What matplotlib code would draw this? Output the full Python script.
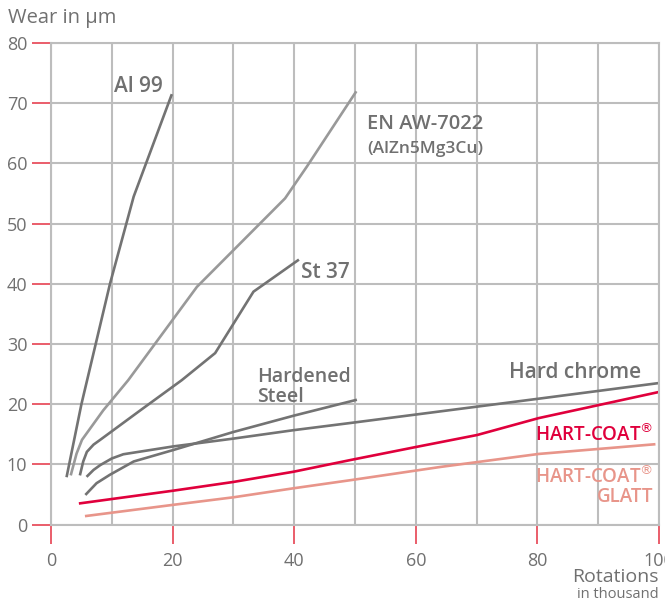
import matplotlib
matplotlib.use("Agg")
import matplotlib.pyplot as plt

# wear curves (x in thousand rotations, y in um)
al99_x = [2.6, 5.0, 9.7, 13.6, 19.8]
al99_y = [8.1, 20.0, 40.0, 54.5, 71.3]

enaw_x = [3.3, 4.2, 5.1, 8.6, 12.7, 24.0, 38.5, 42.1, 50.1]
enaw_y = [8.4, 11.8, 14.1, 19.0, 24.0, 39.5, 54.2, 59.5, 71.8]

st37_x = [4.8, 5.3, 5.9, 7.0, 8.1, 14.7, 21.5, 27.0, 33.3, 40.6]
st37_y = [8.4, 10.5, 12.1, 13.3, 14.1, 19.0, 24.0, 28.5, 38.7, 43.9]

hard_x = [5.8, 7.5, 9.7, 13.6, 20.1, 30.0, 39.9, 50.1]
hard_y = [5.1, 6.9, 8.3, 10.5, 12.4, 15.4, 18.1, 20.7]

chrome_x = [6.0, 7.0, 8.1, 10.0, 11.9, 20.1, 30.0, 39.9, 49.3, 80.0, 99.8]
chrome_y = [8.1, 9.1, 9.9, 11.0, 11.7, 13.0, 14.3, 15.7, 16.9, 20.9, 23.5]

hc_x = [4.8, 20.1, 30.0, 39.9, 49.3, 60.0, 70.1, 80.2, 99.8]
hc_y = [3.55, 5.65, 7.1, 8.8, 10.75, 12.9, 14.9, 17.7, 22.0]

glatt_x = [5.8, 20.1, 30.0, 39.9, 49.3, 64.1, 80.2, 99.2]
glatt_y = [1.45, 3.3, 4.55, 6.05, 7.4, 9.6, 11.75, 13.35]

x_ticks = [0, 20, 40, 60, 80, 100]
y_ticks = [0, 10, 20, 30, 40, 50, 60, 70, 80]

plt.rcParams['font.family'] = ['Open Sans', 'DejaVu Sans']

GREY_TXT = '#707070'
DARK = '#737373'
LIGHT = '#999999'
RED = '#e0003c'
SALMON = '#e8958a'
GRID = '#bdbdbd'

fig = plt.figure(figsize=(6.65, 6.02), dpi=100)
ax = fig.add_axes([51 / 665, 1 - 524.7 / 602, 608 / 665, 481.7 / 602])

ax.set_xlim(0, 100)
ax.set_ylim(0, 80)
ax.set_yticks(y_ticks)
ax.grid(True, color=GRID, linewidth=1.5)
ax.set_axisbelow(True)
for sp in ax.spines.values():
    sp.set_color(GRID)
    sp.set_linewidth(1.5)

# only every 20 on x gets a red tick and label
ax.set_xticks(x_ticks, minor=False)
ax.set_xticks([10, 30, 50, 70, 90], minor=True)
ax.tick_params(axis='x', which='minor', length=0)
ax.xaxis.grid(True, which='minor', color=GRID, linewidth=1.5)
ax.tick_params(axis='both', which='major', colors='#e8505f', length=14, width=1.3,
               labelcolor=GREY_TXT, labelsize=13)
ax.tick_params(axis='x', which='major', pad=6)
ax.tick_params(axis='y', which='major', pad=3)

lw = 1.9
ax.plot(al99_x, al99_y, color=DARK, lw=lw)
ax.plot(enaw_x, enaw_y, color=LIGHT, lw=lw)
ax.plot(st37_x, st37_y, color=DARK, lw=lw)
ax.plot(hard_x, hard_y, color=DARK, lw=lw)
ax.plot(chrome_x, chrome_y, color=DARK, lw=lw)
ax.plot(hc_x, hc_y, color=RED, lw=lw)
ax.plot(glatt_x, glatt_y, color=SALMON, lw=lw)

# labels in pixel positions of the figure
def label(px, py, s, size=13.5, ha='left', color=GREY_TXT, weight='semibold'):
    fig.text(px / 665, 1 - py / 602, s, ha=ha, va='center', fontsize=size,
             color=color, fontweight=weight)

label(8, 18, 'Wear in µm', size=14.5, weight='normal')
label(659, 577, 'Rotations', size=14, ha='right', weight='normal')
label(659, 595, 'in thousand', size=10.5, ha='right', weight='normal')

label(114, 87, 'Al 99', size=15)
label(367, 124, 'EN AW-7022', size=14.5)
label(367, 149, '(AlZn5Mg3Cu)', size=12.5)
label(301, 272, 'St 37', size=15)
label(257, 377, 'Hardened', size=14)
label(257, 397, 'Steel', size=14)
label(641, 373, 'Hard chrome', size=15, ha='right')
label(653, 435, 'HART-COAT$^{®}$', size=13.5, ha='right', color=RED)
label(653, 477, 'HART-COAT$^{®}$', size=13.5, ha='right', color=SALMON)
label(653, 497, 'GLATT', size=13.5, ha='right', color=SALMON)

fig.savefig('out.png', dpi=100)
